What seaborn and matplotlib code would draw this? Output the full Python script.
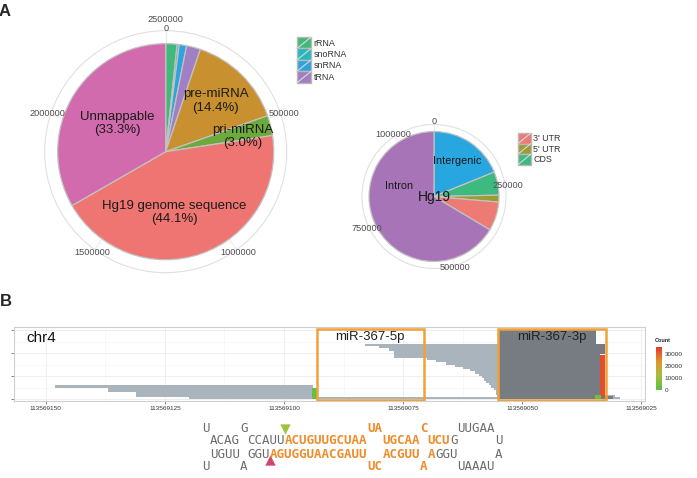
import numpy as np
import matplotlib
matplotlib.use("Agg")
import matplotlib.pyplot as plt
import seaborn as sns
from matplotlib.patches import Rectangle
from matplotlib.lines import Line2D
from matplotlib.legend_handler import HandlerBase
from matplotlib.colors import LinearSegmentedColormap, Normalize
from matplotlib.cm import ScalarMappable

# ---- A (left): small RNA read classes, clockwise from the top
read_classes = ["rRNA", "snoRNA", "snRNA", "tRNA", "pre-miRNA", "pri-miRNA",
                "Hg19 genome sequence", "Unmappable"]
read_counts = [42500, 7500, 27500, 52500, 360000, 75000, 1102500, 832500]
read_colors = ["#3fba7a", "#27b8bd", "#2ea3dd", "#a07fc4", "#c8902f", "#6daa3b",
               "#ef7572", "#d16bae"]
read_ticks = [0, 500000, 1000000, 1500000, 2000000, 2500000]
read_legend = ["rRNA", "snoRNA", "snRNA", "tRNA"]

# ---- A (right): Hg19 reads by genomic region, clockwise from the top
region_names = ["Intergenic", "CDS", "5' UTR", "3' UTR", "Intron"]
region_counts = [208000, 64000, 19000, 79000, 732500]
region_colors = ["#27a6e0", "#3cba80", "#9c9c32", "#ee7a74", "#a874b8"]
region_ticks = [0, 250000, 500000, 750000, 1000000]
region_legend = ["3' UTR", "5' UTR", "CDS"]

# ---- B: read alignment on chr4 (offsets from POS0), rows stacked
POS0 = 113569000
light_hi = [148, 137, 137, 131, 131, 120, 93, 83, 80, 78, 77, 77, 77, 70, 68, 66, 64,
            62.5, 61, 60, 59, 58.5, 58, 57.5, 57, 56.5, 56, 55.5, 55.5, 55.2, 33]
light_lo = [94, 94, 94, 94, 94, 94, 29.5, 34, 34, 34, 34, 34, 34, 34, 34, 34, 34,
            34, 34, 34, 34, 34, 34, 34, 34, 34, 34, 34, 34, 34, 30.5]
light_row = [5, 4, 3, 2, 1, 0, 0, 23, 22, 21, 20, 19, 18, 17, 16, 15, 14,
             13, 12, 11, 10, 9, 8, 7, 6, 5, 4, 3, 2, 1, 1]
dense_hi = [55, 55, 55, 55]
dense_lo = [34.5, 32.5, 33.7, 31]
dense_y0 = [24, 19.5, 1.5, 0]
dense_y1 = [30.2, 24, 19.5, 1.5]
count_hi = [94.1, 33.7, 34.7]
count_lo = [93.1, 32.6, 33.5]
count_y0 = [0, 0.9, 0]
count_y1 = [4.8, 19.1, 1.8]
count_val = [1500, 33000, 2500]
mature_names = ["miR-367-5p", "miR-367-3p"]
mature_hi = [93.1, 55.1]
mature_lo = [70.7, 32.3]
b_ticks = [150, 125, 100, 75, 50, 25]
count_ticks = [0, 10000, 20000, 30000]

# ---- hairpin sequence: (line, column, text, mature?)
hairpin = [
    (0, -1, "U", False), (0, 4, "G", False), (0, 21, "UA", True), (0, 28, "C", True),
    (0, 33, "UUGAA", False),
    (1, 0, "ACAG", False), (1, 5, "CCAUU", False), (1, 10, "ACUGUUGCUAA", True),
    (1, 23, "UGCAA", True), (1, 29, "UCU", True), (1, 32, "G", False), (1, 38, "U", False),
    (2, 0, "UGUU", False), (2, 5, "GGU", False), (2, 8, "AGUGGUAACGAUU", True),
    (2, 23, "ACGUU", True), (2, 29, "A", True), (2, 30, "GGU", False), (2, 38, "A", False),
    (3, -1, "U", False), (3, 4, "A", False), (3, 21, "UC", True), (3, 28, "A", True),
    (3, 33, "UAAAU", False),
]

sns.set_theme(style="white")
plt.rcParams["font.family"] = ["Liberation Sans", "DejaVu Sans"]
plt.rcParams["axes.axisbelow"] = True

W, H = 697, 478
fig = plt.figure(figsize=(W / 100, H / 100), dpi=100)
fig.patch.set_facecolor("white")

# overlay in pixel units for panel letters and the hairpin
ov = fig.add_axes([0, 0, 1, 1])
ov.set_xlim(0, W)
ov.set_ylim(H, 0)
ov.axis("off")
ov.patch.set_alpha(0)
ov.text(5, 11, "A", fontsize=12, fontweight="bold", ha="center", va="center")
ov.text(6, 302, "B", fontsize=12, fontweight="bold", ha="center", va="center")


class KeyHandler(HandlerBase):
    def create_artists(self, legend, orig, xd, yd, w, h, fontsize, trans):
        box = Rectangle((-xd, -yd), w, h, facecolor=orig.get_facecolor(),
                        edgecolor="#b8b8b8", linewidth=1.0, transform=trans)
        diag = Line2D([-xd, -xd + w], [-yd, -yd + h], color="#d9d9d9",
                      linewidth=0.8, transform=trans)
        return [box, diag]


def draw_pie(rect, counts, colors, ticks, ring, tick_off):
    ax = fig.add_axes(rect, projection="polar")
    counts = np.asarray(counts, float)
    total = counts.sum()
    start = 2 * np.pi * (np.cumsum(counts) - counts) / total
    width = 2 * np.pi * counts / total
    ax.set_theta_zero_location("N")
    ax.set_theta_direction(-1)
    ax.set_axisbelow(True)
    ax.bar(start, 1.0, width=width, bottom=0, align="edge", color=colors,
           edgecolor="#c2c2c2", linewidth=0.9)
    ax.set_ylim(0, ring)
    ax.set_yticks([])
    fr = (np.asarray(ticks, float) / total) % 1.0
    ax.set_xticks(2 * np.pi * fr)
    ax.set_xticklabels([])
    ax.tick_params(axis="x", length=0)
    ax.grid(True, axis="x", color="#ebebeb", linewidth=0.8)
    ax.spines["polar"].set_color("#e0e0e0")
    ax.spines["polar"].set_linewidth(0.8)
    groups = {}
    for t, f in zip(ticks, fr):
        groups.setdefault(round(f, 6), []).append(t)
    for f, vals in groups.items():
        a = 2 * np.pi * f
        d = tick_off * len(vals)
        lab = "\n".join(str(v) for v in sorted(vals, reverse=True))
        ax.annotate(lab, xy=(a, ring), xytext=(d * np.sin(a), d * np.cos(a)),
                    textcoords="offset points", ha="center", va="center",
                    fontsize=6.6, color="#4d4d4d", linespacing=0.95,
                    annotation_clip=False)
    mids = start + width / 2
    return ax, total, mids


# ---- big pie
ax1, tot1, mid1 = draw_pie([44.7 / W, 1 - 272.7 / H, 242 / W, 242 / H],
                           read_counts, read_colors, read_ticks, 1.12, 2.3)
# label placement (angle in degrees or None for slice middle, radius)
label_pos = {"pre-miRNA": (None, 0.66), "pri-miRNA": (79, 0.73),
             "Hg19 genome sequence": (172, 0.57), "Unmappable": (None, 0.52)}
for name, c, m in zip(read_classes, read_counts, mid1):
    if name in label_pos:
        ang, r = label_pos[name]
        th = m if ang is None else np.deg2rad(ang)
        ax1.text(th, r, f"{name}\n({100 * c / tot1:.1f}%)", ha="center",
                 va="center", fontsize=9.5, color="#1a1a1a", linespacing=1.15)

h1 = [Rectangle((0, 0), 1, 1, facecolor=read_colors[read_classes.index(n)]) for n in read_legend]
fig.legend(h1, read_legend, handler_map={Rectangle: KeyHandler()}, loc="upper left",
           bbox_to_anchor=(297 / W, 1 - 37 / H), frameon=False, fontsize=6.4,
           handlelength=1.6, handleheight=1.6, labelspacing=0.0, handletextpad=0.25,
           borderpad=0, borderaxespad=0, labelcolor="#333333")

# ---- small pie
ax2, tot2, mid2 = draw_pie([362 / W, 1 - 268.5 / H, 144 / W, 144 / H],
                           region_counts, region_colors, region_ticks, 1.108, 1.8)
ax2.text(mid2[0], 0.65, "Intergenic", ha="center", va="center", fontsize=7.8, color="#1a1a1a")
ax2.text(np.deg2rad(286), 0.56, "Intron", ha="center", va="center", fontsize=7.8, color="#1a1a1a")
ax2.text(0, 0, "Hg19", ha="center", va="center", fontsize=10, color="#1a1a1a")

h2 = [Rectangle((0, 0), 1, 1, facecolor=region_colors[region_names.index(n)]) for n in region_legend]
fig.legend(h2, region_legend, handler_map={Rectangle: KeyHandler()}, loc="upper left",
           bbox_to_anchor=(518 / W, 1 - 133 / H), frameon=False, fontsize=6.4,
           handlelength=1.45, handleheight=1.45, labelspacing=0.0, handletextpad=0.25,
           borderpad=0, borderaxespad=0, labelcolor="#333333")

# ---- panel B alignment
axb = fig.add_axes([14 / W, 1 - 401 / H, 631 / W, 74 / H])
lh, ll = np.array(light_hi), np.array(light_lo)
axb.barh(light_row, lh - ll, left=POS0 + ll, height=1.0, align="edge",
         color="#aab4bd", linewidth=0)
dh, dl = np.array(dense_hi), np.array(dense_lo)
axb.barh(dense_y0, dh - dl, left=POS0 + dl, height=np.array(dense_y1) - np.array(dense_y0),
         align="edge", color="#767c82", linewidth=0)
cmap = LinearSegmentedColormap.from_list("cnt", ["#5dbf47", "#a5bf3a", "#e29430", "#e2392b"])
norm = Normalize(vmin=0, vmax=36000)
ch, cl = np.array(count_hi), np.array(count_lo)
axb.barh(count_y0, ch - cl, left=POS0 + cl, height=np.array(count_y1) - np.array(count_y0),
         align="edge", color=cmap(norm(count_val)), linewidth=0)
for name, hi, lo in zip(mature_names, mature_hi, mature_lo):
    axb.add_patch(Rectangle((POS0 + lo, -0.3), hi - lo, 30.7, fill=False,
                            edgecolor="#f1a139", linewidth=1.8, zorder=5))
    axb.text(POS0 + (hi + lo) / 2, 27, name, ha="center", va="center",
             fontsize=9.5, color="#222222", zorder=6)
axb.text(POS0 + 154, 26.5, "chr4", ha="left", va="center", fontsize=11, color="#111111")

axb.set_xlim(POS0 + 156.7, POS0 + 24.2)
axb.set_ylim(-0.8, 31.3)
axb.set_xticks([POS0 + t for t in b_ticks])
axb.set_xticklabels([str(POS0 + t) for t in b_ticks], fontsize=4.6, color="#333333")
axb.set_xticks([POS0 + t - 12.5 for t in b_ticks[:-1]], minor=True)
axb.set_yticks([0, 10, 20, 30])
axb.set_yticks([5, 15, 25], minor=True)
axb.set_yticklabels([])
axb.tick_params(axis="both", which="major", length=2, width=0.5, color="#555555",
                pad=1.5, bottom=True, left=True)
axb.tick_params(axis="both", which="minor", length=0)
axb.grid(True, which="major", color="#ebebeb", linewidth=0.6)
axb.grid(True, which="minor", color="#f4f4f4", linewidth=0.4)
for s in axb.spines.values():
    s.set_color("#d0d0d0")
    s.set_linewidth(0.8)

cax = fig.add_axes([656 / W, 1 - 390 / H, 6 / W, 43 / H])
cb = fig.colorbar(ScalarMappable(norm=norm, cmap=cmap), cax=cax, ticks=count_ticks)
cb.outline.set_visible(False)
cb.ax.tick_params(length=0, labelsize=4.6, labelcolor="#333333", pad=2)
ov.text(655, 341, "Count", fontsize=4, fontweight="bold", ha="left", va="center")

# ---- hairpin under panel B
x0, cw = 210, 7.5
line_y = [428, 441, 454, 466]
for line, col, txt, mature in hairpin:
    ov.text(x0 + col * cw, line_y[line], txt, ha="left", va="center",
            family="DejaVu Sans Mono", fontsize=9,
            color="#ef8c2b" if mature else "#6b6b6b",
            fontweight="bold" if mature else "normal")
ov.scatter([x0 + 10 * cw], [429], marker="v", s=55, color="#9cc43e", linewidths=0)
ov.scatter([x0 + 8 * cw], [460], marker="^", s=55, color="#d2446b", linewidths=0)

fig.savefig("out.png", dpi=100)
